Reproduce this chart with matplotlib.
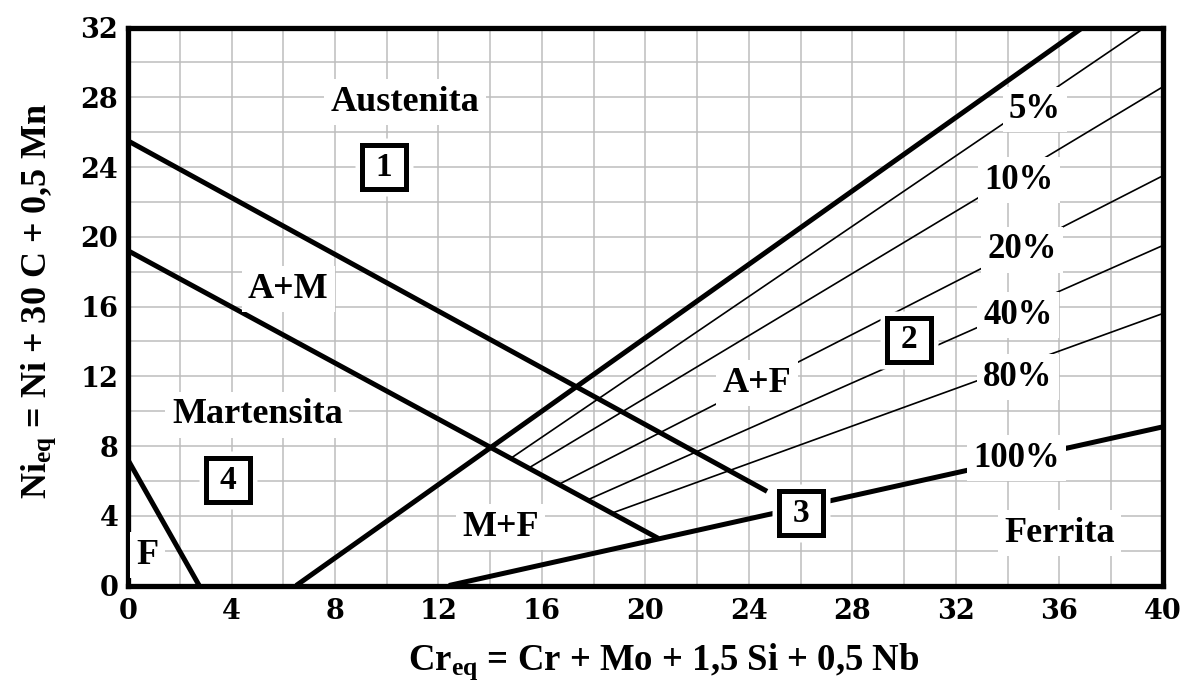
import matplotlib.pyplot as plt

# phase boundaries, end points (Cr_eq, Ni_eq)
aust_cr = [0.0, 24.7]
aust_ni = [25.5, 5.4]
mart_cr = [0.0, 20.5]
mart_ni = [19.2, 2.7]
fm_cr = [0.0, 2.75]
fm_ni = [7.2, 0.0]
f0_cr = [6.5, 36.9]
f0_ni = [0.0, 32.0]
f100_cr = [12.4, 40.0]
f100_ni = [0.0, 9.1]

# ferrite iso-lines (thin)
pct_cr0 = [14.8, 15.5, 16.65, 17.75, 18.7]
pct_ni0 = [7.3, 6.75, 5.8, 4.9, 4.15]
pct_cr1 = [39.3, 40.0, 40.0, 40.0, 40.0]
pct_ni1 = [32.0, 28.6, 23.5, 19.5, 15.6]

pct_labels = ['5%', '10%', '20%', '40%', '80%', '100%']
pct_label_cr = [35.05, 34.45, 34.55, 34.4, 34.4, 34.35]
pct_label_ni = [27.3, 23.25, 19.25, 15.5, 11.95, 7.3]

regions = ['Austenita', 'A+M', 'Martensita', 'F', 'M+F', 'A+F', 'Ferrita']
region_cr = [10.7, 6.2, 5.0, 0.75, 14.4, 24.3, 36.0]
region_ni = [27.7, 17.0, 9.8, 1.75, 3.35, 11.6, 3.0]

boxes = ['1', '2', '3', '4']
box_cr = [9.9, 30.2, 26.0, 3.85]
box_ni = [24.0, 14.1, 4.15, 6.05]

plt.rcParams['mathtext.fontset'] = 'custom'
plt.rcParams['mathtext.rm'] = 'Liberation Serif:bold'
plt.rcParams['mathtext.it'] = 'Liberation Serif:bold'
plt.rcParams['mathtext.bf'] = 'Liberation Serif:bold'

serif = 'Liberation Serif'
fig = plt.figure(figsize=(11.8, 6.81), dpi=100)
ax = fig.add_axes([0.1085, 0.1402, 0.877, 0.8194])
ax.set_xlim(0, 40)
ax.set_ylim(0, 32)
ax.set_xticks(range(0, 41, 4))
ax.set_yticks(range(0, 33, 4))
ax.set_xticks(range(0, 41, 2), minor=True)
ax.set_yticks(range(0, 33, 2), minor=True)
ax.grid(which='both', color='#bdbdbd', linewidth=1.1)
ax.set_axisbelow(True)
ax.tick_params(which='both', length=0)
ax.tick_params(axis='x', pad=9)
ax.tick_params(axis='y', pad=7)
for lab in ax.get_xticklabels() + ax.get_yticklabels():
    lab.set_fontfamily('DejaVu Serif')
    lab.set_fontweight('bold')
    lab.set_fontsize(19.5)
for s in ax.spines.values():
    s.set_linewidth(3.8)

# thin iso-ferrite lines
for i in range(len(pct_cr0)):
    ax.plot([pct_cr0[i], pct_cr1[i]], [pct_ni0[i], pct_ni1[i]], 'k-', linewidth=1.2, zorder=2)

# thick phase boundaries
for xs, ys in [(aust_cr, aust_ni), (mart_cr, mart_ni), (fm_cr, fm_ni),
               (f0_cr, f0_ni), (f100_cr, f100_ni)]:
    ax.plot(xs, ys, 'k-', linewidth=3.6, solid_capstyle='butt', zorder=2.2)

# numbered boxes
ax.plot(box_cr, box_ni, 's', ms=42, mfc='w', mec='none', zorder=3)
ax.plot(box_cr, box_ni, 's', ms=31, mfc='w', mec='k', mew=3.6, zorder=3.1)
for i in range(len(boxes)):
    ax.text(box_cr[i], box_ni[i], boxes[i], ha='center', va='center',
            family=serif, fontweight='bold', fontsize=24, zorder=3.2)

label_box = dict(boxstyle='square,pad=0.18', fc='w', ec='none')
for i in range(len(regions)):
    ax.text(region_cr[i], region_ni[i], regions[i], ha='center', va='center',
            family=serif, fontweight='bold', fontsize=26, bbox=label_box, zorder=3)
for i in range(len(pct_labels)):
    ax.text(pct_label_cr[i], pct_label_ni[i], pct_labels[i], ha='center', va='center',
            family=serif, fontweight='bold', fontsize=25, bbox=label_box, zorder=3)

ax.set_xlabel(r'$\mathrm{Cr_{eq}}$ = Cr + Mo + 1,5 Si + 0,5 Nb',
              family=serif, fontweight='bold', fontsize=26.5)
ax.xaxis.set_label_coords(0.518, -0.099)
ax.set_ylabel(r'$\mathrm{Ni_{eq}}$ = Ni + 30 C + 0,5 Mn',
              family=serif, fontweight='bold', fontsize=26)
ax.yaxis.set_label_coords(-0.068, 0.51)

plt.savefig('out.png', facecolor='w', edgecolor='w')
